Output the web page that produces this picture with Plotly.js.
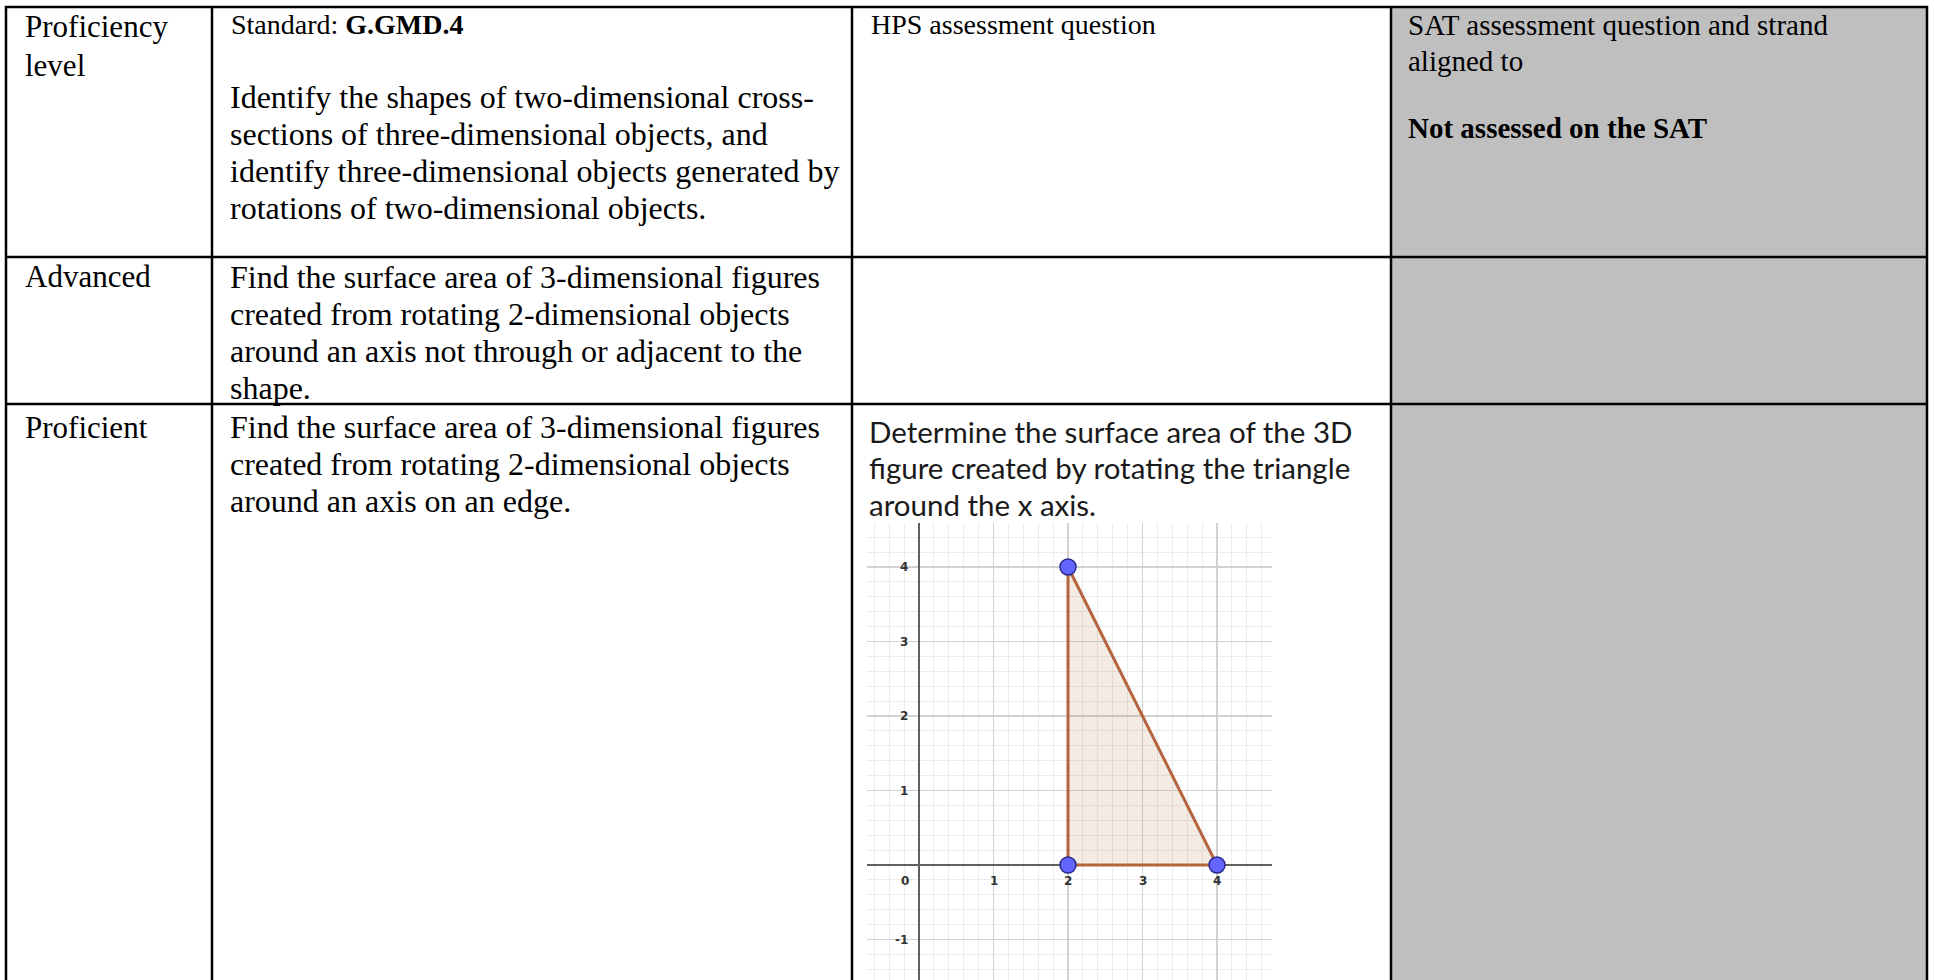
<!DOCTYPE html>
<html>
<head>
<meta charset="utf-8">
<script src="https://cdn.plot.ly/plotly-3.0.1.min.js"></script>
<style>html,body{margin:0;padding:0;background:#fff;}#chart{width:1934px;height:980px;}</style>
</head>
<body>
<div id="chart"></div>
<script>
// ---- data ----
const triangleX = [2, 2, 4, 2];
const triangleY = [0, 4, 0, 0];
const vertexX = [2, 2, 4];
const vertexY = [4, 0, 0];
const xTickVals = [1, 2, 3, 4];
const yTickVals = [-1, 1, 2, 3, 4];

const col1Header = ["Proficiency", "level"];
const col2Header = ["Identify the shapes of two-dimensional cross-",
  "sections of three-dimensional objects, and",
  "identify three-dimensional objects generated by",
  "rotations of two-dimensional objects."];
const col3Header = ["HPS assessment question"];
const col4Header = ["SAT assessment question and strand", "aligned to"];
const col4Bold = "Not assessed on the SAT";
const advancedText = ["Find the surface area of 3-dimensional figures",
  "created from rotating 2-dimensional objects",
  "around an axis not through or adjacent to the",
  "shape."];
const proficientText = ["Find the surface area of 3-dimensional figures",
  "created from rotating 2-dimensional objects",
  "around an axis on an edge."];
const questionText = ["Determine the surface area of the 3D",
  "figure created by rotating the triangle",
  "around the x axis."];

// ---- layout helpers ----
const W = 1934, H = 980;
const px = x => x / W;
const py = y => 1 - y / H;
const SERIF = "Liberation Serif, Times New Roman, serif";
const SANS = "Lato, Open Sans, sans-serif";

const annotations = [];
function txt(s, x, y, size, family, extra) {
  annotations.push(Object.assign({
    text: s, xref: 'paper', yref: 'paper', x: px(x), y: py(y),
    xanchor: 'left', yanchor: 'middle', showarrow: false,
    font: {family: family || SERIF, size: size, color: '#000'}
  }, extra || {}));
}
const LH = 37;
col1Header.forEach((s, i) => txt(s, 23, 27 + i * 38, 31));
txt("Advanced", 23, 277, 31);
txt("Proficient", 23, 427, 31);
txt("Standard: <b>G.GMD.4</b>", 229, 25, 28);
col2Header.forEach((s, i) => txt(s, 228, 97 + i * LH, 32));
advancedText.forEach((s, i) => txt(s, 228, 277 + i * LH, 32));
proficientText.forEach((s, i) => txt(s, 228, 427 + i * LH, 32));
col3Header.forEach((s, i) => txt(s, 869, 25, 28));
questionText.forEach((s, i) => txt(s, 867, 431 + i * LH, 29.5, SANS, {font: {family: SANS, size: 29.5, color: '#1a1a1a'}}));
col4Header.forEach((s, i) => txt(s, 1406, 25 + i * 36, 29));
txt("<b>" + col4Bold + "</b>", 1406, 128, 29);

// graph tick labels (GeoGebra style, next to the axes)
const tickFont = {family: "DejaVu Sans, Arial, sans-serif", size: 12, color: '#333', weight: 'bold'};
xTickVals.forEach(v => annotations.push({text: String(v), xref: 'x', yref: 'y', x: v, y: -0.215,
  xanchor: 'center', yanchor: 'middle', showarrow: false, font: tickFont}));
yTickVals.forEach(v => annotations.push({text: String(v), xref: 'x', yref: 'y', x: -0.12, y: v,
  xanchor: 'right', yanchor: 'middle', showarrow: false, font: tickFont}));
annotations.push({text: "0", xref: 'x', yref: 'y', x: -0.19, y: -0.215,
  xanchor: 'center', yanchor: 'middle', showarrow: false, font: tickFont});

// table shapes
const shapes = [];
shapes.push({type: 'rect', xref: 'paper', yref: 'paper', x0: px(1391), x1: px(1927), y0: py(7), y1: py(980),
  fillcolor: '#bfbfbf', line: {width: 0}, layer: 'below'});
const hLines = [7, 257, 404];
const vLines = [6, 212, 852, 1391, 1927];
hLines.forEach(y => shapes.push({type: 'line', xref: 'paper', yref: 'paper', x0: px(5), x1: px(1928), y0: py(y), y1: py(y),
  line: {color: '#000', width: 2.5}}));
vLines.forEach(x => shapes.push({type: 'line', xref: 'paper', yref: 'paper', x0: px(x), x1: px(x), y0: py(6), y1: py(981),
  line: {color: '#000', width: 2.5}}));

// graph geometry: origin at (919, 865) px, 74.5 px per unit
const gx0 = 867, gx1 = 1272, gyTop = 523, gyBot = 980;
const ox = 919, oy = 865, unit = 74.5;
const xRange = [(gx0 - ox) / unit, (gx1 - ox) / unit];
const yRange = [(oy - gyBot) / unit, (oy - gyTop) / unit];

const traces = [
  {x: triangleX, y: triangleY, type: 'scatter', mode: 'lines', fill: 'toself',
   fillcolor: 'rgba(170,90,40,0.12)', line: {color: '#b5653b', width: 3}, hoverinfo: 'skip'},
  {x: vertexX, y: vertexY, type: 'scatter', mode: 'markers',
   marker: {size: 16, color: '#6464ff', line: {color: '#2a2a8a', width: 1.5}}, hoverinfo: 'skip'}
];

const axisCommon = {
  dtick: 1, tick0: 0, showgrid: true, gridcolor: '#d2d2d2', gridwidth: 1.6,
  minor: {dtick: 0.2, showgrid: true, gridcolor: '#ececec', gridwidth: 1},
  zeroline: true, zerolinecolor: '#606060', zerolinewidth: 2.5,
  showticklabels: false, ticks: '', showline: false, fixedrange: true
};

const layout = {
  width: W, height: H, margin: {l: 0, r: 0, t: 0, b: 0, pad: 0},
  paper_bgcolor: '#ffffff', plot_bgcolor: '#ffffff', showlegend: false,
  xaxis: Object.assign({}, axisCommon, {domain: [px(gx0), px(gx1)], range: xRange}),
  yaxis: Object.assign({}, axisCommon, {domain: [py(gyBot), py(gyTop)], range: yRange}),
  shapes: shapes, annotations: annotations
};

Plotly.newPlot('chart', traces, layout, {staticPlot: true, displayModeBar: false});
</script>
</body>
</html>
